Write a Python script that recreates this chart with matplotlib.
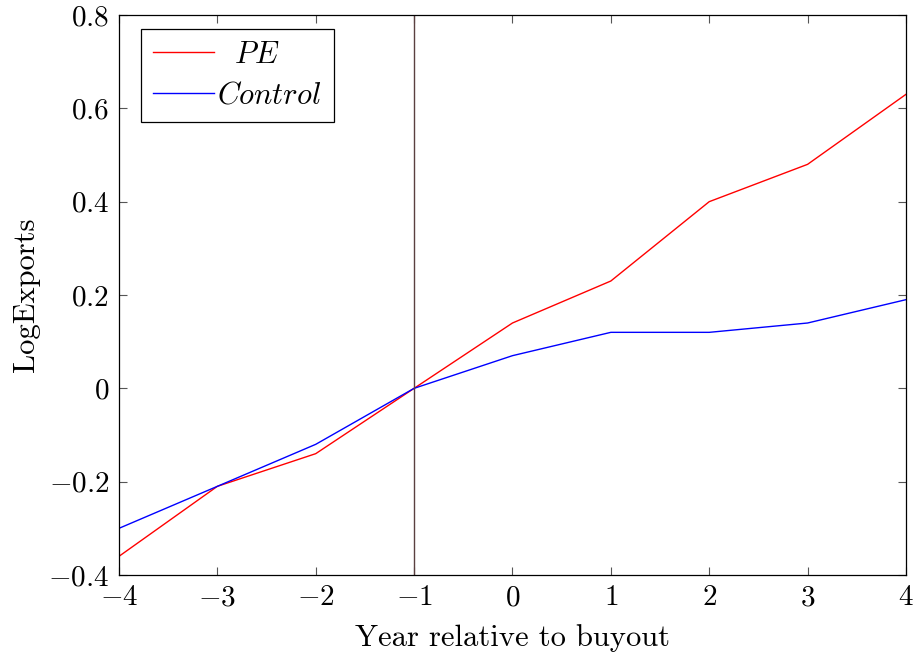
import matplotlib
matplotlib.use("Agg")
import matplotlib.pyplot as plt

plt.rcParams["font.family"] = "serif"
plt.rcParams["font.serif"] = ["cmr10", "DejaVu Serif"]
plt.rcParams["mathtext.fontset"] = "cm"
plt.rcParams["axes.formatter.use_mathtext"] = True

years = [-4, -3, -2, -1, 0, 1, 2, 3, 4]
pe = [-0.36, -0.21, -0.14, 0.0, 0.14, 0.23, 0.40, 0.48, 0.63]
control = [-0.30, -0.21, -0.12, 0.0, 0.07, 0.12, 0.12, 0.14, 0.19]

xticks = [-4, -3, -2, -1, 0, 1, 2, 3, 4]
yticks = [-0.4, -0.2, 0, 0.2, 0.4, 0.6, 0.8]
ylabels = [r"$-0.4$", r"$-0.2$", r"$0$", r"$0.2$", r"$0.4$", r"$0.6$", r"$0.8$"]
xlabels = [r"$-4$", r"$-3$", r"$-2$", r"$-1$", r"$0$", r"$1$", r"$2$", r"$3$", r"$4$"]

fig = plt.figure(figsize=(9.13, 6.61), dpi=100)
ax = fig.add_axes([0.1303, 0.1301, 0.862, 0.8472])

ax.plot(years, pe, color="red", lw=1.0, label=r"$\ \ PE$")
ax.plot(years, control, color="blue", lw=1.0, label=r"$Control$")
ax.axvline(-1, color="#5a4040", lw=1.0)

ax.set_xlim(-4, 4)
ax.set_ylim(-0.4, 0.8)
ax.set_xticks(xticks)
ax.set_xticklabels(xlabels)
ax.set_yticks(yticks)
ax.set_yticklabels(ylabels)
ax.tick_params(direction="in", top=True, right=True, labelsize=21, length=6,
               color="#555555", pad=7)
for s in ax.spines.values():
    s.set_linewidth(0.9)

ax.set_xlabel("Year relative to buyout", fontsize=22, labelpad=9)
ax.set_ylabel("LogExports", fontsize=22, labelpad=6)

leg = ax.legend(loc="upper left", bbox_to_anchor=(0.028, 0.975), fontsize=22,
                fancybox=False, framealpha=1, edgecolor="black",
                handlelength=2.0, handletextpad=0.1, borderaxespad=0,
                borderpad=0.4, labelspacing=0.45)
leg.get_frame().set_linewidth(0.9)

fig.savefig("out.png", dpi=100)
